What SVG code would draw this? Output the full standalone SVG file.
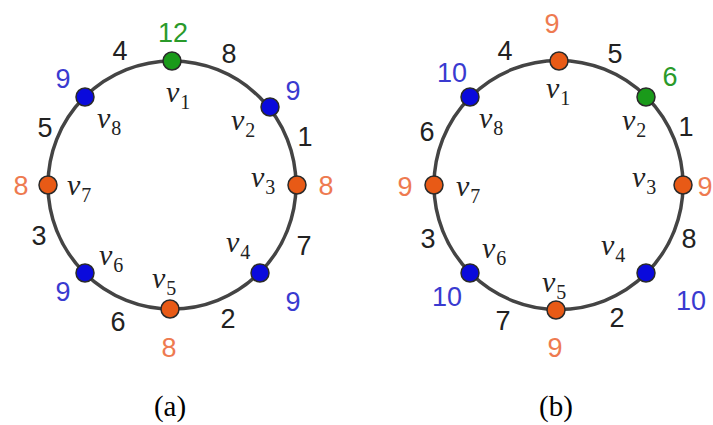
<svg xmlns="http://www.w3.org/2000/svg" width="713" height="425" viewBox="0 0 713 425">
<style>
.ring{fill:none;stroke:#444;stroke-width:3.5}
.nd{stroke:#2a2a2a;stroke-width:1.5}
.o{fill:#e85a16}.b{fill:#0a0adc}.g{fill:#1a9a1a}
.num{font-family:"Liberation Sans",Arial,sans-serif;font-size:27px;text-anchor:middle}
.e{fill:#222}.to{fill:#ee7a50}.tb{fill:#3a3ad0}.tg{fill:#2a9a2a}
.v{font-family:"Liberation Serif","Times New Roman",serif;font-style:italic;font-size:30px;fill:#222}
.s{font-size:20px;font-style:normal}
.cap{font-family:"Liberation Serif","Times New Roman",serif;font-size:29px;text-anchor:middle;fill:#000}
</style>
<rect width="713" height="425" fill="#fff"/>
<g id="connectors">
<circle class="ring" cx="172" cy="185" r="124"/>
<circle class="ring" cx="558.5" cy="185" r="124.5"/>
</g>
<g id="edge-labels-a">
<text class="num e" x="120" y="60">4</text>
<text class="num e" x="229" y="63">8</text>
<text class="num e" x="305" y="146">1</text>
<text class="num e" x="304" y="255">7</text>
<text class="num e" x="228" y="328">2</text>
<text class="num e" x="118" y="331">6</text>
<text class="num e" x="39" y="245">3</text>
<text class="num e" x="45" y="137">5</text>
</g>
<g id="a-v1"><circle class="nd g" cx="172" cy="61" r="9"/><text class="num tg" x="173" y="42">12</text><text class="v" x="166" y="102">v<tspan class="s" dx="1" dy="7">1</tspan></text></g>
<g id="a-v2"><circle class="nd b" cx="270" cy="107" r="9"/><text class="num tb" x="293" y="100">9</text><text class="v" x="231" y="130">v<tspan class="s" dx="1" dy="7">2</tspan></text></g>
<g id="a-v3"><circle class="nd o" cx="297" cy="185" r="9"/><text class="num to" x="326" y="195">8</text><text class="v" x="251" y="187">v<tspan class="s" dx="1" dy="7">3</tspan></text></g>
<g id="a-v4"><circle class="nd b" cx="260" cy="273" r="9"/><text class="num tb" x="293" y="311">9</text><text class="v" x="226" y="252">v<tspan class="s" dx="1" dy="7">4</tspan></text></g>
<g id="a-v5"><circle class="nd o" cx="170" cy="309" r="9"/><text class="num to" x="169" y="357">8</text><text class="v" x="152" y="288">v<tspan class="s" dx="1" dy="7">5</tspan></text></g>
<g id="a-v6"><circle class="nd b" cx="85" cy="273" r="9"/><text class="num tb" x="63" y="301">9</text><text class="v" x="99" y="265">v<tspan class="s" dx="1" dy="7">6</tspan></text></g>
<g id="a-v7"><circle class="nd o" cx="48" cy="185" r="9"/><text class="num to" x="21" y="195">8</text><text class="v" x="67" y="195">v<tspan class="s" dx="1" dy="7">7</tspan></text></g>
<g id="a-v8"><circle class="nd b" cx="85" cy="97" r="9"/><text class="num tb" x="63" y="88">9</text><text class="v" x="97" y="128">v<tspan class="s" dx="1" dy="7">8</tspan></text></g>
<g id="edge-labels-b">
<text class="num e" x="505" y="60">4</text>
<text class="num e" x="615" y="63">5</text>
<text class="num e" x="686" y="136">1</text>
<text class="num e" x="689" y="248">8</text>
<text class="num e" x="617" y="327">2</text>
<text class="num e" x="503" y="330">7</text>
<text class="num e" x="428" y="248">3</text>
<text class="num e" x="427" y="141">6</text>
</g>
<g id="b-v1"><circle class="nd o" cx="559" cy="61" r="9"/><text class="num to" x="552" y="33">9</text><text class="v" x="546" y="98">v<tspan class="s" dx="1" dy="7">1</tspan></text></g>
<g id="b-v2"><circle class="nd g" cx="646" cy="97" r="9"/><text class="num tg" x="670" y="86">6</text><text class="v" x="622" y="130">v<tspan class="s" dx="1" dy="7">2</tspan></text></g>
<g id="b-v3"><circle class="nd o" cx="683" cy="185" r="9"/><text class="num to" x="705" y="196">9</text><text class="v" x="632" y="187">v<tspan class="s" dx="1" dy="7">3</tspan></text></g>
<g id="b-v4"><circle class="nd b" cx="646" cy="273" r="9"/><text class="num tb" x="691" y="310">10</text><text class="v" x="601" y="255">v<tspan class="s" dx="1" dy="7">4</tspan></text></g>
<g id="b-v5"><circle class="nd o" cx="556" cy="310" r="9"/><text class="num to" x="555" y="357">9</text><text class="v" x="542" y="292">v<tspan class="s" dx="1" dy="7">5</tspan></text></g>
<g id="b-v6"><circle class="nd b" cx="470" cy="273" r="9"/><text class="num tb" x="447" y="306">10</text><text class="v" x="482" y="258">v<tspan class="s" dx="1" dy="7">6</tspan></text></g>
<g id="b-v7"><circle class="nd o" cx="434" cy="185" r="9"/><text class="num to" x="405" y="196">9</text><text class="v" x="456" y="196">v<tspan class="s" dx="1" dy="7">7</tspan></text></g>
<g id="b-v8"><circle class="nd b" cx="470" cy="97" r="9"/><text class="num tb" x="452" y="82">10</text><text class="v" x="479" y="128">v<tspan class="s" dx="1" dy="7">8</tspan></text></g>
<g id="captions">
<text class="cap" x="170" y="416">(a)</text>
<text class="cap" x="556" y="416">(b)</text>
</g>
</svg>
